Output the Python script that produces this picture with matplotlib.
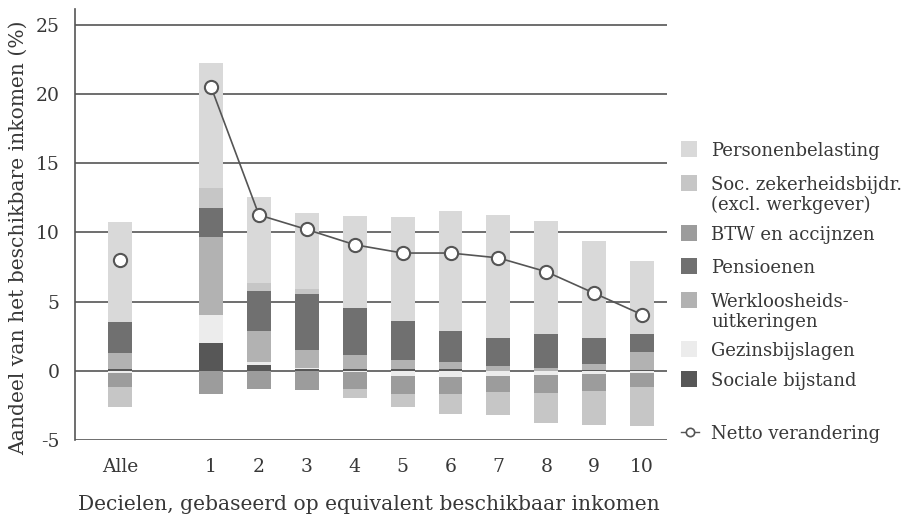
import numpy as np
import matplotlib
matplotlib.use("Agg")
import matplotlib.pyplot as plt
from matplotlib.patches import Rectangle
from matplotlib.lines import Line2D

categories = ["Alle", "1", "2", "3", "4", "5", "6", "7", "8", "9", "10"]
series_names = ["Sociale bijstand", "Gezinsbijslagen", "Werkloosheids-\nuitkeringen",
                "Pensioenen", "BTW en accijnzen",
                "Soc. zekerheidsbijdr.\n(excl. werkgever)", "Personenbelasting"]
sociale_bijstand = [0.14, 2.02, 0.38, 0.12, 0.14, 0.14, 0.14, 0.0, 0.0, 0.07, 0.07]
gezinsbijslagen = [-0.15, 2.02, 0.22, 0.06, -0.12, -0.36, -0.43, -0.35, -0.29, -0.22, -0.15]
werkloosheid = [1.16, 5.62, 2.28, 1.29, 1.0, 0.65, 0.5, 0.36, 0.22, 0.43, 1.3]
pensioenen = [2.23, 2.09, 2.89, 4.04, 3.39, 2.81, 2.23, 2.02, 2.45, 1.88, 1.3]
btw = [-1.0, -1.71, -1.3, -1.37, -1.22, -1.3, -1.23, -1.16, -1.3, -1.22, -1.0]
soc_zek = [-1.5, 1.47, 0.57, 0.36, -0.65, -0.94, -1.44, -1.65, -2.16, -2.45, -2.82]
personenbelasting = [7.2, 9.0, 6.2, 5.55, 6.63, 7.5, 8.66, 8.87, 8.15, 6.99, 5.26]
netto = [8.0, 20.5, 11.25, 10.2, 9.1, 8.5, 8.5, 8.15, 7.15, 5.6, 4.05]

colors = ["#575757", "#ececec", "#b2b2b2", "#707070", "#9c9c9c", "#c6c6c6", "#d9d9d9"]
stack = [sociale_bijstand, gezinsbijslagen, werkloosheid, pensioenen, btw, soc_zek, personenbelasting]

plt.rcParams['font.family'] = ['DejaVu Serif']
txt = "#383838"
fs_leg = 13
fs_tick = 13.5
fs_lab = 14.6

W, H = 902, 515
fig = plt.figure(figsize=(W / 100, H / 100), dpi=100)
ax = fig.add_axes([75 / W, 1 - 440 / H, (667 - 75) / W, (440 - 9.3) / H])

x = np.array([0.0] + [i + 0.9 for i in range(1, 11)])
ax.set_xlim(-0.94, 11.42)
ax.set_ylim(-5, 26.1)

for yv in [-5, 0, 5, 10, 15, 20, 25]:
    ax.axhline(yv, color="#555555", lw=1.2, zorder=1)

pos_b = np.zeros(len(x))
neg_b = np.zeros(len(x))
for vals, c in zip(stack, colors):
    v = np.array(vals)
    bottom = np.where(v >= 0, pos_b, neg_b)
    ax.bar(x, v, width=0.5, bottom=bottom, color=c, linewidth=0, zorder=2)
    pos_b = pos_b + np.where(v >= 0, v, 0)
    neg_b = neg_b + np.where(v < 0, v, 0)

ax.plot(x[1:], netto[1:], color="#555555", lw=1.2, zorder=3)
ax.plot(x, netto, ls="none", marker="o", ms=9.5, mfc="white", mec="#555555", mew=1.5, zorder=4)

for s in ["top", "right", "bottom"]:
    ax.spines[s].set_visible(False)
ax.spines["left"].set_color("#555555")
ax.spines["left"].set_linewidth(1.2)
ax.spines["left"].set_bounds(-5, 26.1)

ax.set_yticks([-5, 0, 5, 10, 15, 20, 25])
ax.set_yticklabels(["-5", "0", "5", "10", "15", "20", "25"])
ax.set_xticks(x)
ax.set_xticklabels(categories)
ax.tick_params(axis="both", length=0, labelsize=fs_tick, colors=txt)
ax.tick_params(axis="y", pad=11)
ax.tick_params(axis="x", pad=13)

fig.text(18 / W, 1 - 238 / H, "Aandeel van het beschikbare inkomen (%)", rotation=90,
         ha="center", va="center", fontsize=fs_lab, color=txt)
fig.text(369 / W, 1 - 510 / H, "Decielen, gebaseerd op equivalent beschikbaar inkomen",
         ha="center", va="baseline", fontsize=fs_lab, color=txt)

# legend (manual)
legend_items = [
    ("#d9d9d9", ["Personenbelasting"], 149),
    ("#c6c6c6", ["Soc. zekerheidsbijdr.", "(excl. werkgever)"], 183),
    ("#9c9c9c", ["BTW en accijnzen"], 233),
    ("#707070", ["Pensioenen"], 266),
    ("#b2b2b2", ["Werkloosheids-", "uitkeringen"], 300),
    ("#ececec", ["Gezinsbijslagen"], 349),
    ("#575757", ["Sociale bijstand"], 379),
]
for c, lines, yc in legend_items:
    fig.add_artist(Rectangle((681 / W, 1 - (yc + 8) / H), 16 / W, 16 / H,
                             transform=fig.transFigure, color=c, lw=0))
    for k, ln in enumerate(lines):
        fig.text(711 / W, 1 - (yc + 7 + 20 * k) / H, ln, ha="left", va="baseline",
                 fontsize=fs_leg, color=txt)
fig.add_artist(Line2D([681 / W, 699 / W], [1 - 432 / H, 1 - 432 / H], transform=fig.transFigure,
                      color="#555555", lw=1.0))
fig.add_artist(Line2D([690 / W], [1 - 432 / H], transform=fig.transFigure, marker="o", ms=6,
                      mfc="white", mec="#555555", mew=1.2, ls="none"))
fig.text(711 / W, 1 - (432 + 7) / H, "Netto verandering", ha="left", va="baseline",
         fontsize=fs_leg, color=txt)

fig.savefig("out.png", dpi=100)
